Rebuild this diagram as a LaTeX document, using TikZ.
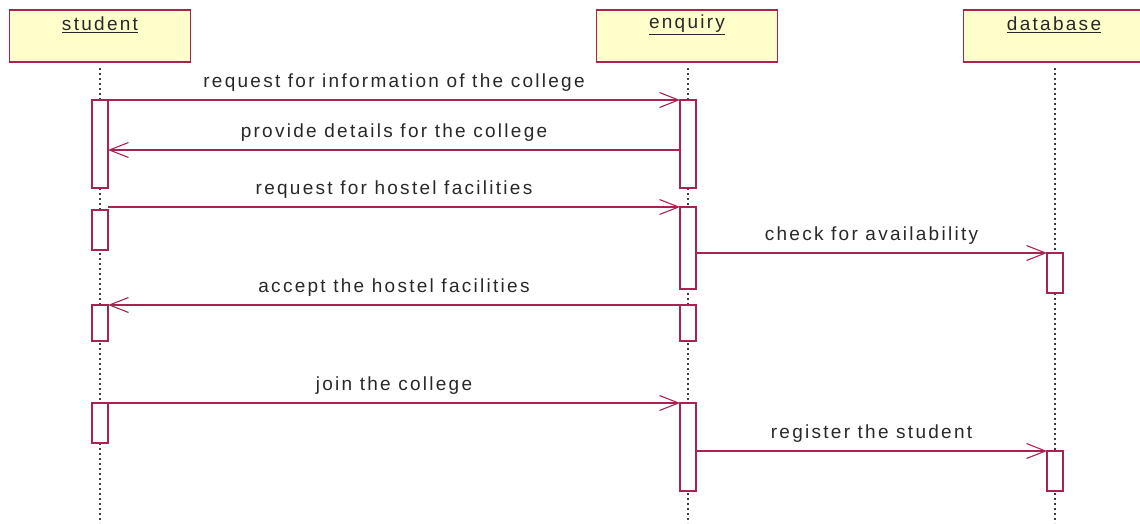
\documentclass[tikz,border=0pt]{standalone}
\usepackage{fontspec}
\setmainfont{Liberation Sans}[LetterSpace=12]
\usetikzlibrary{arrows.meta}
\definecolor{uml}{RGB}{170,35,80}
\definecolor{headfill}{RGB}{255,255,204}
\definecolor{txt}{RGB}{40,40,40}
\definecolor{life}{RGB}{60,60,60}
\tikzset{
  headbox/.style={draw=uml, fill=headfill, line width=1.6pt, minimum width=181pt, minimum height=52pt, inner sep=0pt, outer sep=0pt},
  headtext/.style={text=txt, font=\fontsize{19}{22}\selectfont, inner sep=0pt},
  act/.style={draw=uml, fill=white, line width=1.4pt, minimum width=16pt, inner sep=0pt, outer sep=0pt},
  lifeline/.style={draw=life, line width=1.6pt, dash pattern=on 2pt off 3pt},
  msg/.style={draw=uml, line width=1.3pt, -{Straight Barb[length=19pt,width=15pt,line width=1.1pt]}},
  msglabel/.style={text=txt, font=\fontsize{19}{22}\selectfont, inner sep=0pt, above=8pt},
}
\begin{document}
\begin{tikzpicture}[x=1pt,y=-1pt]
\useasboundingbox (0,0) rectangle (1140,523);
% heads
\node[headbox] (student) at (100,36) {};
\node[headbox] (enquiry) at (687,36) {};
\node[headbox] (database) at (1054,36) {};
\node[headtext] (studentT) at (100,25) {\underline{student}};
\node[headtext] (enquiryT) at (687,25) {\underline{enquiry}};
\node[headtext] (databaseT) at (1054,25) {\underline{database}};
% lifeline ends
\coordinate (sEnd) at (100,523);
\coordinate (eEnd) at (688,523);
\coordinate (dEnd) at (1055,523);
\draw[lifeline] (student.south -| sEnd) ++(0,6) -- (sEnd);
\draw[lifeline] (enquiry.south -| eEnd) ++(0,6) -- (eEnd);
\draw[lifeline] (database.south -| dEnd) ++(0,6) -- (dEnd);
% activations (x-centre, top..bottom)
\node[act, minimum height=88pt] (s1) at (100,144) {};
\node[act, minimum height=40pt] (s2) at (100,230) {};
\node[act, minimum height=36pt] (s3) at (100,323) {};
\node[act, minimum height=40pt] (s4) at (100,423) {};
\node[act, minimum height=88pt] (e1) at (688,144) {};
\node[act, minimum height=82pt] (e2) at (688,248) {};
\node[act, minimum height=36pt] (e3) at (688,323) {};
\node[act, minimum height=88pt] (e4) at (688,447) {};
\node[act, minimum height=40pt] (d1) at (1055,273) {};
\node[act, minimum height=40pt] (d2) at (1055,471) {};
% messages
\draw[msg] (s1.north east) -- node[msglabel] {request for information of the college} (e1.north west);
\draw[msg] (e1.west |- 0,150) -- node[msglabel] {provide details for the college} (s1.east |- 0,150);
\draw[msg] (s1.east |- e2.north) -- node[msglabel] {request for hostel facilities} (e2.north west);
\draw[msg] (e2.east |- d1.north) -- node[msglabel] {check for availability} (d1.north west);
\draw[msg] (e3.north west) -- node[msglabel] {accept the hostel facilities} (s3.north east);
\draw[msg] (s4.north east) -- node[msglabel] {join the college} (e4.north west);
\draw[msg] (e4.east |- d2.north) -- node[msglabel] {register the student} (d2.north west);
\end{tikzpicture}
\end{document}
